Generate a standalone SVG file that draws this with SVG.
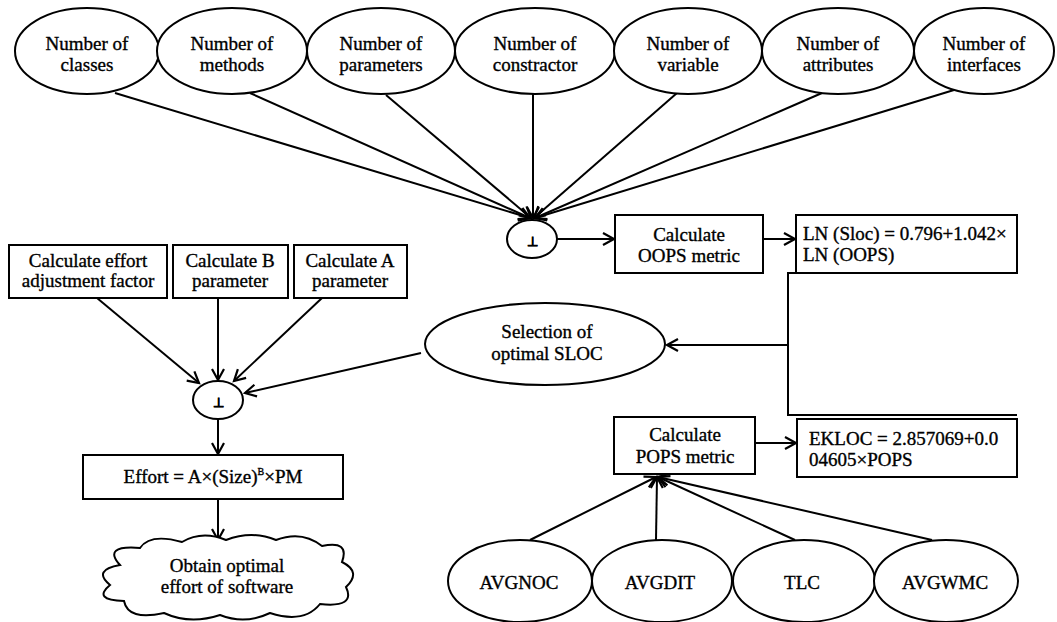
<svg xmlns="http://www.w3.org/2000/svg" width="1057" height="622" viewBox="0 0 1057 622">
<defs>
<marker id="arr" markerUnits="userSpaceOnUse" markerWidth="16" markerHeight="16" refX="13" refY="7" orient="auto">
<path d="M2,1 L13,7 L2,13" fill="none" stroke="#000" stroke-width="2.2"/>
</marker>
<style>
.s{fill:#fff;stroke:#000;stroke-width:2}
.t{font-family:"Liberation Serif","Times New Roman",serif;font-size:19px;fill:#000;stroke:#000;stroke-width:0.35;text-anchor:middle}
.l{font-family:"Liberation Serif","Times New Roman",serif;font-size:19px;fill:#000;stroke:#000;stroke-width:0.35;text-anchor:start}
.c{fill:none;stroke:#000;stroke-width:2}
</style>
</defs>
<rect width="1057" height="622" fill="#fff"/>

<g id="connectors" class="c">
<line x1="115" y1="93" x2="530" y2="218" marker-end="url(#arr)"/>
<line x1="250" y1="93" x2="530" y2="218" marker-end="url(#arr)"/>
<line x1="386" y1="95" x2="531" y2="218" marker-end="url(#arr)"/>
<line x1="533" y1="93" x2="533" y2="218" marker-end="url(#arr)"/>
<line x1="677" y1="93" x2="534" y2="218" marker-end="url(#arr)"/>
<line x1="822" y1="93" x2="535" y2="218" marker-end="url(#arr)"/>
<line x1="954" y1="90" x2="535" y2="218" marker-end="url(#arr)"/>
<line x1="557" y1="239" x2="614" y2="239" marker-end="url(#arr)"/>
<line x1="763" y1="239" x2="795" y2="239" marker-end="url(#arr)"/>
<path d="M796,273 H788 V415 H1017"/>
<line x1="788" y1="345" x2="667" y2="345" marker-end="url(#arr)"/>
<line x1="421" y1="353" x2="245" y2="393" marker-end="url(#arr)"/>
<line x1="97" y1="298" x2="199" y2="383" marker-end="url(#arr)"/>
<line x1="218" y1="298" x2="218" y2="380" marker-end="url(#arr)"/>
<line x1="322" y1="298" x2="234" y2="381" marker-end="url(#arr)"/>
<line x1="218" y1="419" x2="218" y2="454" marker-end="url(#arr)"/>
<line x1="218" y1="499" x2="218" y2="540" marker-end="url(#arr)"/>
<line x1="755" y1="443" x2="796" y2="443" marker-end="url(#arr)"/>
<line x1="530" y1="540" x2="656" y2="477" marker-end="url(#arr)"/>
<line x1="656" y1="540" x2="657" y2="477" marker-end="url(#arr)"/>
<line x1="795" y1="540" x2="658" y2="477" marker-end="url(#arr)"/>
<line x1="932" y1="540" x2="658" y2="477" marker-end="url(#arr)"/>
</g>

<g id="n-classes"><ellipse class="s" cx="87" cy="51" rx="72" ry="43"/><text class="t" x="87" y="50">Number of</text><text class="t" x="87" y="71">classes</text></g>
<g id="n-methods"><ellipse class="s" cx="232" cy="51" rx="75" ry="43"/><text class="t" x="232" y="50">Number of</text><text class="t" x="232" y="71">methods</text></g>
<g id="n-parameters"><ellipse class="s" cx="381" cy="51" rx="74" ry="43"/><text class="t" x="381" y="50">Number of</text><text class="t" x="381" y="71">parameters</text></g>
<g id="n-constractor"><ellipse class="s" cx="535" cy="51" rx="80" ry="43"/><text class="t" x="535" y="50">Number of</text><text class="t" x="535" y="71">constractor</text></g>
<g id="n-variable"><ellipse class="s" cx="688" cy="51" rx="74" ry="43"/><text class="t" x="688" y="50">Number of</text><text class="t" x="688" y="71">variable</text></g>
<g id="n-attributes"><ellipse class="s" cx="838" cy="51" rx="76" ry="43"/><text class="t" x="838" y="50">Number of</text><text class="t" x="838" y="71">attributes</text></g>
<g id="n-interfaces"><ellipse class="s" cx="984" cy="51" rx="70" ry="43"/><text class="t" x="984" y="50">Number of</text><text class="t" x="984" y="71">interfaces</text></g>

<g id="n-join1"><ellipse class="s" cx="532" cy="239" rx="25" ry="19"/><text class="t" x="532" y="246" font-weight="bold" style="font-size:13px">⊥</text></g>
<g id="n-oops"><rect class="s" x="615" y="215" width="148" height="58"/><text class="t" x="689" y="241">Calculate</text><text class="t" x="689" y="262">OOPS metric</text></g>
<g id="n-ln"><rect class="s" x="796" y="215" width="221" height="58"/><text class="l" x="803" y="240">LN (Sloc) = 0.796+1.042×</text><text class="l" x="803" y="261">LN (OOPS)</text></g>
<g id="n-selection"><ellipse class="s" cx="545" cy="344" rx="120" ry="41"/><text class="t" x="547" y="338">Selection of</text><text class="t" x="547" y="360">optimal SLOC</text></g>

<g id="n-eaf"><rect class="s" x="9" y="245" width="158" height="53"/><text class="t" x="88" y="267">Calculate effort</text><text class="t" x="88" y="287">adjustment factor</text></g>
<g id="n-b"><rect class="s" x="173" y="245" width="115" height="53"/><text class="t" x="230" y="267">Calculate B</text><text class="t" x="230" y="287">parameter</text></g>
<g id="n-a"><rect class="s" x="294" y="245" width="113" height="53"/><text class="t" x="350" y="267">Calculate A</text><text class="t" x="350" y="287">parameter</text></g>
<g id="n-join2"><ellipse class="s" cx="218" cy="400" rx="25" ry="19"/><text class="t" x="218" y="407" font-weight="bold" style="font-size:13px">⊥</text></g>
<g id="n-effort"><rect class="s" x="83" y="455" width="260" height="44"/><text class="t" x="213" y="483">Effort = A×(Size)<tspan dy="-8" style="font-size:10px">B</tspan><tspan dy="8">×PM</tspan></text></g>
<g id="n-obtain"><path class="s" d="M120,565 Q102,545 140,548 Q150,533 182,542 Q202,530 226,540 Q252,530 276,540 Q302,530 322,546 Q350,540 342,562 Q362,572 346,587 Q356,608 320,604 Q304,624 270,613 Q245,625 220,615 Q190,625 164,613 Q128,621 124,601 Q92,600 110,585 Q92,570 120,565 Z"/><text class="t" x="227" y="572">Obtain optimal</text><text class="t" x="227" y="593">effort of software</text></g>

<g id="n-pops"><rect class="s" x="614" y="417" width="141" height="57"/><text class="t" x="685" y="441">Calculate</text><text class="t" x="685" y="463">POPS metric</text></g>
<g id="n-ekloc"><rect class="s" x="797" y="419" width="220" height="58"/><text class="l" x="809" y="445">EKLOC = 2.857069+0.0</text><text class="l" x="809" y="466">04605×POPS</text></g>

<g id="n-avgnoc"><ellipse class="s" cx="520" cy="581" rx="72" ry="41"/><text class="t" x="519" y="589">AVGNOC</text></g>
<g id="n-avgdit"><ellipse class="s" cx="662" cy="581" rx="70" ry="41"/><text class="t" x="660" y="589">AVGDIT</text></g>
<g id="n-tlc"><ellipse class="s" cx="804" cy="581" rx="71" ry="41"/><text class="t" x="802" y="589">TLC</text></g>
<g id="n-avgwmc"><ellipse class="s" cx="946" cy="581" rx="72" ry="41"/><text class="t" x="945" y="589">AVGWMC</text></g>
</svg>
